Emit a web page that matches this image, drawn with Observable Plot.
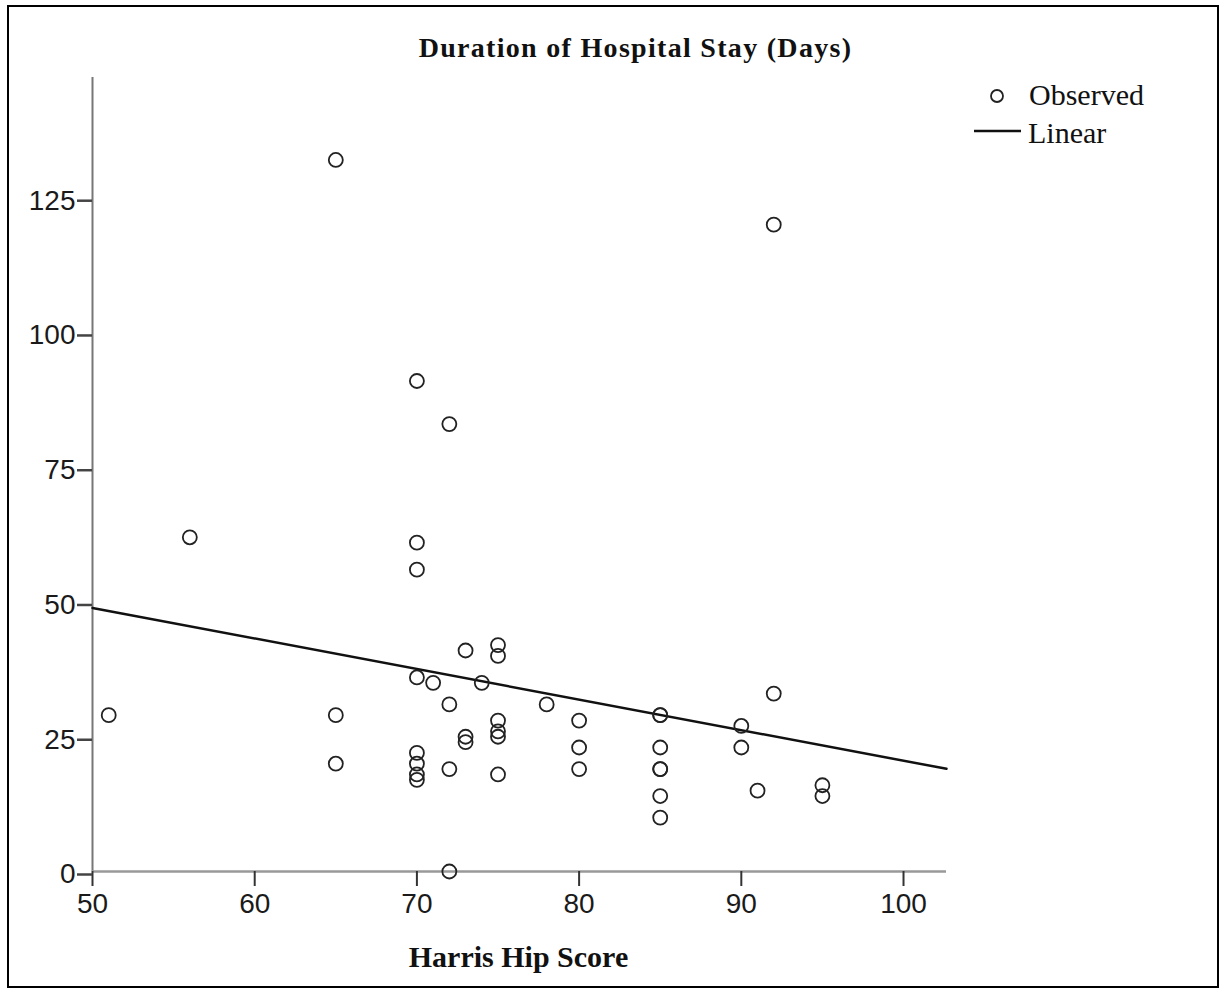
<!DOCTYPE html>
<html>
<head>
<meta charset="utf-8">
<script src="https://cdn.jsdelivr.net/npm/d3@7"></script>
<script src="https://cdn.jsdelivr.net/npm/@observablehq/plot@0.6"></script>
<style>
  html, body { margin: 0; padding: 0; background: #fff; }
  #wrap { position: relative; width: 1220px; height: 988px; overflow: hidden; }
  #frame { position: absolute; left: 7px; top: 5px; width: 1208px; height: 979px; border: 2px solid #000; pointer-events: none; }
  #chart { position: absolute; left: 0; top: 0; }
  #overlay { position: absolute; left: 0; top: 0; }
</style>
</head>
<body>
<div id="wrap">
  <div id="chart"></div>
  <svg id="overlay" width="1220" height="988"></svg>
  <div id="frame"></div>
</div>
<script>
// ---- Data ----
const harrisHipScore = [51, 56, 65, 65, 65, 70, 70, 70, 70, 70, 70, 70, 70, 71, 72, 72, 72, 72, 73, 73, 73, 74,
  75, 75, 75, 75, 75, 75, 78, 80, 80, 80, 85, 85, 85, 85, 85, 85, 85, 90, 90, 91, 92, 92, 95, 95];
const hospitalDays = [29, 62, 132, 29, 20, 91, 61, 56, 36, 22, 20, 18, 17, 35, 83, 31, 19, 0, 41, 25, 24, 35,
  42, 40, 28, 26, 25, 18, 31, 28, 23, 19, 29, 29, 23, 19, 19, 14, 10, 27, 23, 15, 120, 33, 16, 14];
// Linear fit line end points
const fitScore = [50, 102.65];
const fitDays = [48.9, 19.05];
const xTicks = [50, 60, 70, 80, 90, 100];
const yTicks = [0, 25, 50, 75, 100, 125];
const titleText = "Duration of Hospital Stay (Days)";
const xLabelText = "Harris Hip Score";
const legendLabels = ["Observed", "Linear"];

const points = harrisHipScore.map((s, i) => ({score: s, days: hospitalDays[i]}));
const fit = fitScore.map((s, i) => ({score: s, days: fitDays[i]}));

const chart = Plot.plot({
  width: 1220,
  height: 988,
  marginLeft: 92,
  marginRight: 274,
  marginTop: 77,
  marginBottom: 117,
  style: {fontFamily: "'Liberation Sans', sans-serif", fontSize: "28px", background: "transparent", overflow: "visible"},
  x: {domain: [50, 102.65]},
  y: {domain: [0, 147.3]},
  marks: [
    Plot.ruleX([50], {stroke: "#777", strokeWidth: 2}),
    Plot.ruleY([0], {stroke: "#999", strokeWidth: 2.5}),
    Plot.axisX({ticks: xTicks, tickSize: 15, tickPadding: 7, stroke: "#333", strokeWidth: 2, fill: "#1a1a1a", fontSize: 28, label: null}),
    Plot.axisY({ticks: yTicks, tickSize: 15, tickPadding: 2, stroke: "#444", strokeWidth: 2.5, fill: "#1a1a1a", fontSize: 28, label: null, dy: 3}),
    Plot.line(fit, {x: "score", y: "days", stroke: "#111", strokeWidth: 2.5}),
    Plot.dot(points, {x: "score", y: "days", r: 7, stroke: "#222", strokeWidth: 1.8, fill: "none"})
  ]
});
document.getElementById("chart").appendChild(chart);

// ---- Title, axis label and legend ----
const ov = d3.select("#overlay");
ov.append("text")
  .attr("x", 635.5).attr("y", 57)
  .attr("text-anchor", "middle")
  .attr("font-family", "'Liberation Serif', serif")
  .attr("font-weight", "bold")
  .attr("font-size", 28)
  .attr("letter-spacing", 1.3)
  .attr("fill", "#111")
  .text(titleText);
ov.append("text")
  .attr("x", 518.5).attr("y", 967)
  .attr("text-anchor", "middle")
  .attr("font-family", "'Liberation Serif', serif")
  .attr("font-weight", "bold")
  .attr("font-size", 30)
  .attr("fill", "#111")
  .text(xLabelText);
// legend
ov.append("circle").attr("cx", 997).attr("cy", 96).attr("r", 6).attr("fill", "none").attr("stroke", "#222").attr("stroke-width", 1.8);
ov.append("text").attr("x", 1029).attr("y", 105).attr("font-family", "'Liberation Serif', serif").attr("font-size", 30).attr("fill", "#111").text(legendLabels[0]);
ov.append("line").attr("x1", 974).attr("x2", 1021).attr("y1", 131).attr("y2", 131).attr("stroke", "#111").attr("stroke-width", 2.5);
ov.append("text").attr("x", 1028).attr("y", 143).attr("font-family", "'Liberation Serif', serif").attr("font-size", 30).attr("fill", "#111").text(legendLabels[1]);
</script>
</body>
</html>
